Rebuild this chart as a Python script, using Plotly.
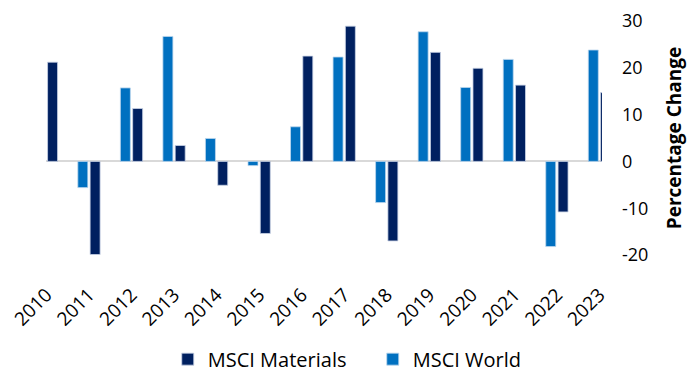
import plotly.graph_objects as go

years = ["2010", "2011", "2012", "2013", "2014", "2015", "2016",
         "2017", "2018", "2019", "2020", "2021", "2022", "2023"]
msci_world = [11.8, -5.6, 15.7, 26.7, 4.9, -0.9, 7.4,
              22.3, -8.8, 27.7, 15.8, 21.8, -18.2, 23.8]
msci_materials = [21.2, -19.9, 11.3, 3.4, -5.1, -15.4, 22.5,
                  28.9, -17.0, 23.3, 19.9, 16.3, -10.8, 14.7]
y_ticks = [-20, -10, 0, 10, 20, 30]
y_ticktext = ["-20", "-10", "0", "10", "20", "30"]

x = list(range(len(years)))
FONT = "Open Sans"

fig = go.Figure()
fig.add_trace(go.Bar(
    x=x, y=msci_world, name="MSCI World",
    marker=dict(color="#0070C0", line=dict(color="#BDD7EE", width=0.8)),
    width=0.235, offset=-0.262, legendrank=2,
))
fig.add_trace(go.Bar(
    x=x, y=msci_materials, name="MSCI Materials",
    marker=dict(color="#002060", line=dict(color="#C9D3E6", width=0.8)),
    width=0.235, offset=0.027, legendrank=1,
))

fig.update_layout(
    width=689, height=377,
    margin=dict(l=46, r=87, t=21, b=122, autoexpand=False),
    paper_bgcolor="white", plot_bgcolor="white",
    barmode="overlay",
    font=dict(family=FONT, size=18, color="#000000"),
    showlegend=True,
    legend=dict(orientation="h", x=0.219, xanchor="left", y=-0.445, yanchor="middle",
                font=dict(size=20), itemwidth=30, tracegroupgap=0,
                entrywidth=160, entrywidthmode="pixels",
                traceorder="normal"),
    xaxis=dict(
        range=[-0.01, 13.06], tickmode="array", tickvals=x, ticktext=years,
        tickangle=-45, showgrid=False, zeroline=False, showline=False,
        ticks="", ticklabelstandoff=24, tickfont=dict(size=19), automargin=False,
    ),
    yaxis=dict(
        side="right", range=[-20, 30], tickmode="array", tickvals=y_ticks,
        ticktext=y_ticktext, automargin=False,
        showgrid=False, zeroline=True, zerolinecolor="#D9D9D9", zerolinewidth=1.5,
        showline=False, ticks="", ticklabelstandoff=19, tickfont=dict(size=18),
        title=dict(text="<b>Percentage Change</b>", font=dict(size=19), standoff=20),
    ),
)

fig.write_html("out.html")
